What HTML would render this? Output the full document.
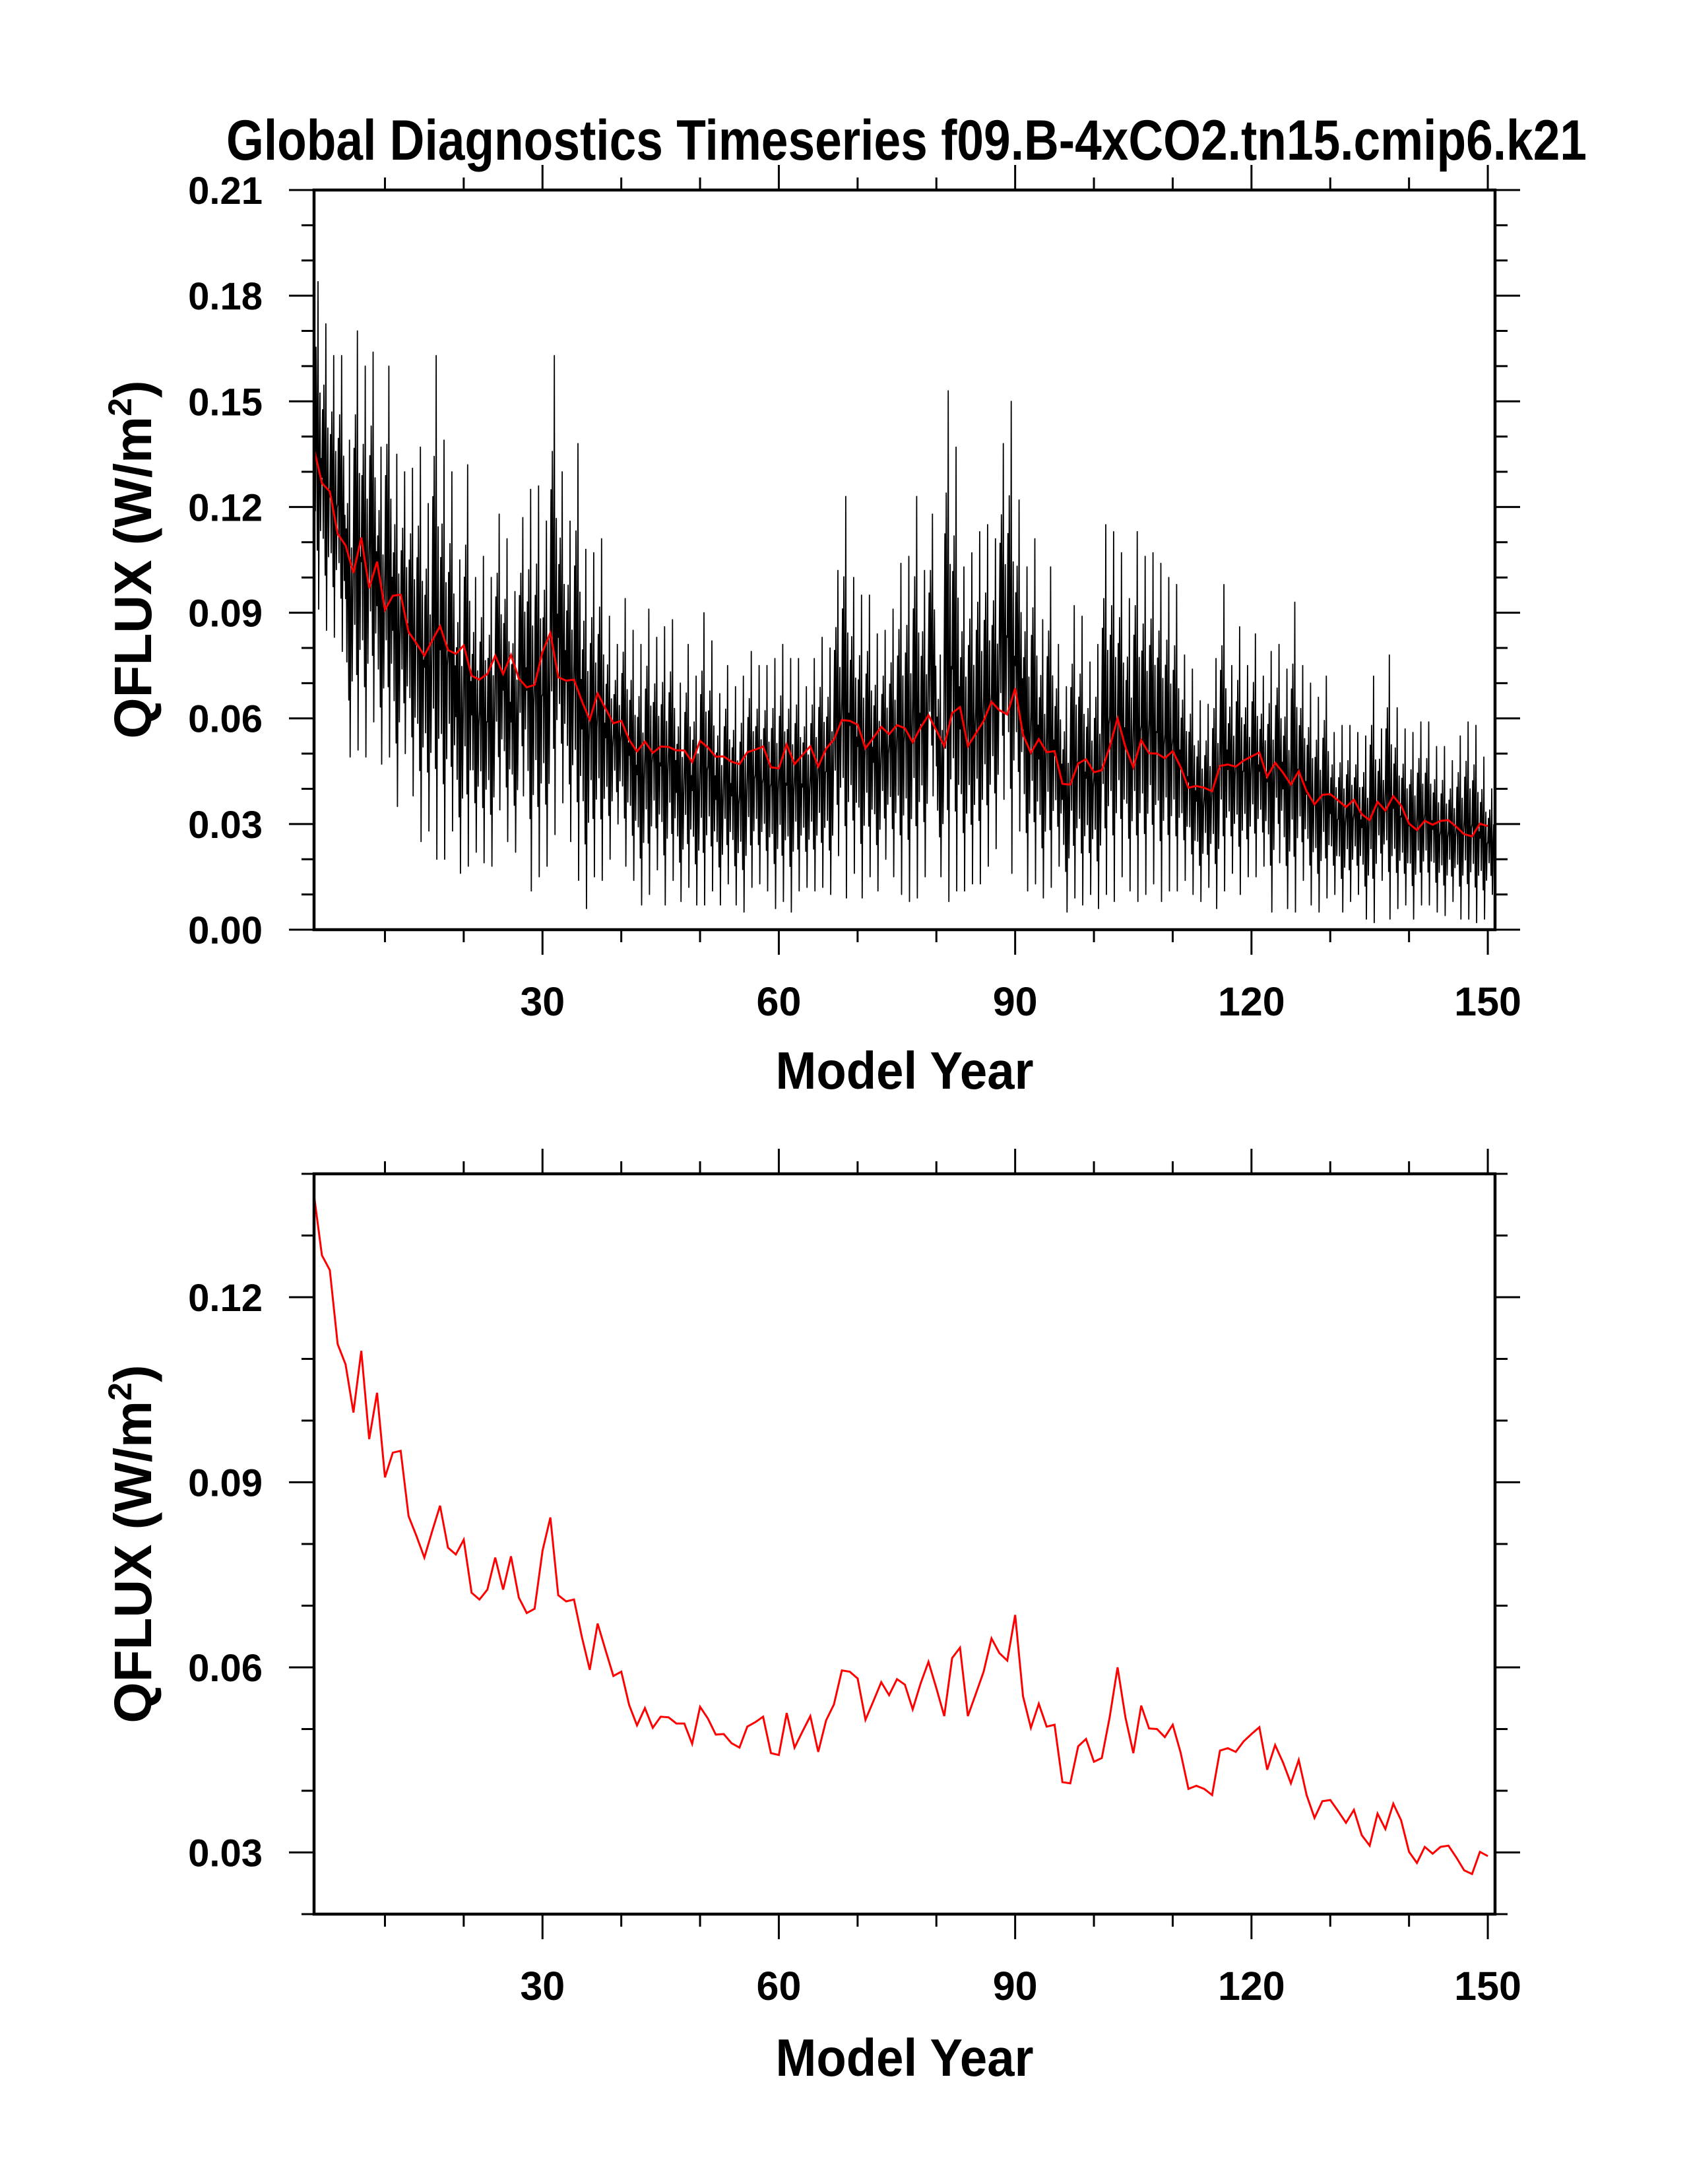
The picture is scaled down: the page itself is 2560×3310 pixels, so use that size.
<!DOCTYPE html>
<html><head><meta charset="utf-8"><title>QFLUX timeseries</title>
<style>html,body{margin:0;padding:0;background:#fff}svg{display:block}text{font-family:"Liberation Sans",Arial,sans-serif;font-weight:bold;fill:#000}</style>
</head><body>
<svg id="chart" xmlns="http://www.w3.org/2000/svg" width="2560" height="3310" viewBox="0 0 2560 3310">
<rect x="0" y="0" width="2560" height="3310" fill="#fff"/>
<text x="1374" y="242" font-size="86" text-anchor="middle" textLength="2062" lengthAdjust="spacingAndGlyphs">Global Diagnostics Timeseries f09.B-4xCO2.tn15.cmip6.k21</text>
<g id="top"></g>
<g id="bot"></g>
<text x="1371" y="1650" font-size="80" text-anchor="middle" textLength="391" lengthAdjust="spacingAndGlyphs">Model Year</text>
<text x="1371" y="3146" font-size="80" text-anchor="middle" textLength="391" lengthAdjust="spacingAndGlyphs">Model Year</text>
<text transform="translate(229,848) rotate(-90)" font-size="80" text-anchor="middle">QFLUX (W/m<tspan font-size="50" dy="-30">2</tspan><tspan dy="30">)</tspan></text>
<text transform="translate(229,2340) rotate(-90)" font-size="80" text-anchor="middle">QFLUX (W/m<tspan font-size="50" dy="-30">2</tspan><tspan dy="30">)</tspan></text>
</svg>
<script>
// ---- data ----
const annualMean = [0.1365,0.1268,0.1244,0.1124,0.1091,0.1013,0.1113,0.0970,0.1045,0.0908,0.0948,0.0951,0.0845,0.0813,0.0778,0.0821,0.0862,0.0794,0.0783,0.0807,0.0721,0.0710,0.0726,0.0778,0.0726,0.0780,0.0713,0.0688,0.0695,0.0789,0.0843,0.0717,0.0707,0.0710,0.0649,0.0596,0.0671,0.0628,0.0586,0.0593,0.0539,0.0506,0.0534,0.0502,0.0520,0.0519,0.0509,0.0509,0.0476,0.0536,0.0517,0.0491,0.0492,0.0477,0.0470,0.0504,0.0511,0.0520,0.0461,0.0458,0.0526,0.0470,0.0496,0.0521,0.0463,0.0514,0.0540,0.0595,0.0593,0.0582,0.0515,0.0545,0.0576,0.0555,0.0581,0.0572,0.0532,0.0574,0.0609,0.0566,0.0521,0.0615,0.0632,0.0521,0.0557,0.0593,0.0647,0.0623,0.0611,0.0685,0.0553,0.0502,0.0541,0.0504,0.0507,0.0414,0.0412,0.0472,0.0484,0.0447,0.0453,0.0519,0.0600,0.0519,0.0461,0.0538,0.0501,0.0500,0.0487,0.0507,0.0462,0.0403,0.0408,0.0403,0.0393,0.0465,0.0469,0.0463,0.0480,0.0492,0.0503,0.0434,0.0474,0.0446,0.0412,0.0450,0.0393,0.0356,0.0383,0.0385,0.0367,0.0348,0.0369,0.0328,0.0311,0.0363,0.0338,0.0379,0.0352,0.0301,0.0283,0.0309,0.0298,0.0309,0.0311,0.0292,0.0271,0.0265,0.0301,0.0294];
const annualMax = [0.184,0.172,0.163,0.163,0.139,0.170,0.160,0.164,0.137,0.160,0.135,0.130,0.131,0.137,0.121,0.163,0.139,0.130,0.105,0.132,0.100,0.106,0.100,0.118,0.111,0.096,0.117,0.125,0.126,0.116,0.163,0.130,0.116,0.138,0.108,0.107,0.111,0.089,0.081,0.094,0.085,0.081,0.091,0.083,0.086,0.088,0.070,0.081,0.072,0.090,
0.082,0.067,0.075,0.069,0.072,0.079,0.075,0.075,0.077,0.081,0.077,0.077,0.069,0.077,0.083,0.080,0.102,0.123,0.100,0.095,0.095,0.084,0.085,0.091,0.104,0.106,0.123,0.102,0.118,0.078,0.153,0.137,0.103,0.107,0.113,0.115,0.111,0.138,0.150,0.122,0.103,0.111,0.088,0.103,0.081,0.069,0.092,0.089,0.076,0.081,
0.115,0.113,0.107,0.094,0.113,0.106,0.107,0.104,0.100,0.098,0.078,0.074,0.065,0.064,0.077,0.098,0.075,0.086,0.075,0.084,0.072,0.079,0.081,0.074,0.093,0.075,0.070,0.066,0.072,0.056,0.058,0.058,0.056,0.055,0.072,0.057,0.078,0.063,0.057,0.056,0.059,0.059,0.052,0.052,0.048,0.055,0.059,0.058,0.049,0.040];
const annualMin = [0.091,0.085,0.083,0.079,0.049,0.051,0.049,0.059,0.047,0.049,0.035,0.050,0.038,0.025,0.028,0.020,0.020,0.028,0.016,0.018,0.022,0.019,0.018,0.034,0.025,0.022,0.038,0.011,0.015,0.018,0.027,0.036,0.025,0.014,0.006,0.015,0.014,0.020,0.030,0.018,0.014,0.007,0.010,0.017,0.007,0.014,0.008,0.012,0.007,0.007,
0.011,0.007,0.013,0.007,0.005,0.012,0.013,0.011,0.006,0.008,0.005,0.011,0.012,0.011,0.012,0.010,0.021,0.009,0.016,0.009,0.015,0.011,0.020,0.015,0.010,0.008,0.009,0.015,0.038,0.015,0.008,0.011,0.011,0.013,0.013,0.018,0.023,0.037,0.016,0.028,0.011,0.013,0.009,0.012,0.018,0.005,0.009,0.007,0.010,0.006,
0.010,0.008,0.015,0.011,0.008,0.010,0.013,0.008,0.011,0.011,0.014,0.010,0.008,0.012,0.006,0.011,0.016,0.010,0.015,0.015,0.018,0.005,0.019,0.006,0.005,0.014,0.007,0.005,0.009,0.010,0.005,0.008,0.010,0.003,0.002,0.014,0.003,0.006,0.007,0.003,0.007,0.007,0.005,0.004,0.008,0.003,0.003,0.002,0.003,0.010];
const seasonalShape = [0.5,0.72,0.3,0.8,0.55,0.18,1.0,0.0,0.42,0.66,0.24,0.46];
const xTickLabels = ["30","60","90","120","150"];
const xMajorTicks = [30,60,90,120,150];
const xMinorTicks = [10,20,40,50,70,80,100,110,130,140];
const topYTickLabels = ["0.00","0.03","0.06","0.09","0.12","0.15","0.18","0.21"];
const topYMajor = [0,0.03,0.06,0.09,0.12,0.15,0.18,0.21];
const topYMinor = [0.01,0.02,0.04,0.05,0.07,0.08,0.10,0.11,0.13,0.14,0.16,0.17,0.19,0.20];
const botYTickLabels = ["0.03","0.06","0.09","0.12"];
const botYMajor = [0.03,0.06,0.09,0.12];
const botYMinor = [0.02,0.04,0.05,0.07,0.08,0.10,0.11,0.13,0.14];

const NS = "http://www.w3.org/2000/svg";
const X0 = 476, X1 = 2266, XMIN = 1, XMAX = 150.917;
function sx(v){ return X0 + (v - XMIN) / (XMAX - XMIN) * (X1 - X0); }
function mk(tag, attrs, parent){ const e = document.createElementNS(NS, tag); for (const k in attrs) e.setAttribute(k, attrs[k]); parent.appendChild(e); return e; }

function panel(g, top, bot, ymin, ymax, yMaj, yMin, yLab, name){
  const sy = v => bot - (v - ymin) / (ymax - ymin) * (bot - top);
  const ticks = mk('g', {stroke:'#000','stroke-width':3}, g);
  
  
  xMajorTicks.forEach(v => { const x = sx(v);
    mk('line',{x1:x,x2:x,y1:bot,y2:bot+38},ticks); mk('line',{x1:x,x2:x,y1:top,y2:top-38},ticks); });
  xMinorTicks.forEach(v => { const x = sx(v);
    mk('line',{x1:x,x2:x,y1:bot,y2:bot+19},ticks); mk('line',{x1:x,x2:x,y1:top,y2:top-19},ticks); });
  yMaj.forEach(v => { const y = sy(v);
    mk('line',{x1:X0,x2:X0-38,y1:y,y2:y},ticks); mk('line',{x1:X1,x2:X1+38,y1:y,y2:y},ticks); });
  yMin.forEach(v => { const y = sy(v);
    mk('line',{x1:X0,x2:X0-19,y1:y,y2:y},ticks); mk('line',{x1:X1,x2:X1+19,y1:y,y2:y},ticks); });
  xMajorTicks.forEach((v,i) => {
    const t = mk('text',{x:sx(v),y:bot+130,'font-size':61,'text-anchor':'middle'},g);
    
    
    t.textContent = xTickLabels[i]; });
  yMaj.forEach((v,i) => {
    const t = mk('text',{x:398,y:sy(v)+21,'font-size':58,'text-anchor':'end'},g);
    
    
    t.textContent = yLab[i]; });
  return sy;
}

const gTop = document.getElementById('top');
const syT = panel(gTop, 288, 1409, 0, 0.21, topYMajor, topYMinor, topYTickLabels, 'top');
let pts = [];
for (let i = 0; i < annualMax.length; i++) {
  for (let m = 0; m < 12; m++) {
    const v = annualMin[i] + (annualMax[i] - annualMin[i]) * seasonalShape[m];
    const xv = Math.min(1 + i + m / 12, XMAX);
    pts.push(sx(xv).toFixed(1) + ',' + syT(v).toFixed(1));
  }
}
const monthly = mk('polyline',{points:pts.join(' '),fill:'none',stroke:'#000','stroke-width':1.8,'stroke-linejoin':'round'},gTop);


const redTop = mk('polyline',{points:annualMean.map((v,i)=>sx(i+1).toFixed(1)+','+syT(v).toFixed(1)).join(' '),fill:'none',stroke:'#ff0000','stroke-width':3},gTop);


const frameT = mk('rect',{x:X0,y:288,width:X1-X0,height:1409-288,fill:'none',stroke:'#000','stroke-width':4.5},gTop);



const gBot = document.getElementById('bot');
const syB = panel(gBot, 1779, 2901, 0.02, 0.14, botYMajor, botYMinor, botYTickLabels, 'bottom');
const redBot = mk('polyline',{points:annualMean.map((v,i)=>sx(i+1).toFixed(1)+','+syB(v).toFixed(1)).join(' '),fill:'none',stroke:'#ff0000','stroke-width':3},gBot);


const frameB = mk('rect',{x:X0,y:1779,width:X1-X0,height:2901-1779,fill:'none',stroke:'#000','stroke-width':4.5},gBot);


</script>
</body></html>
